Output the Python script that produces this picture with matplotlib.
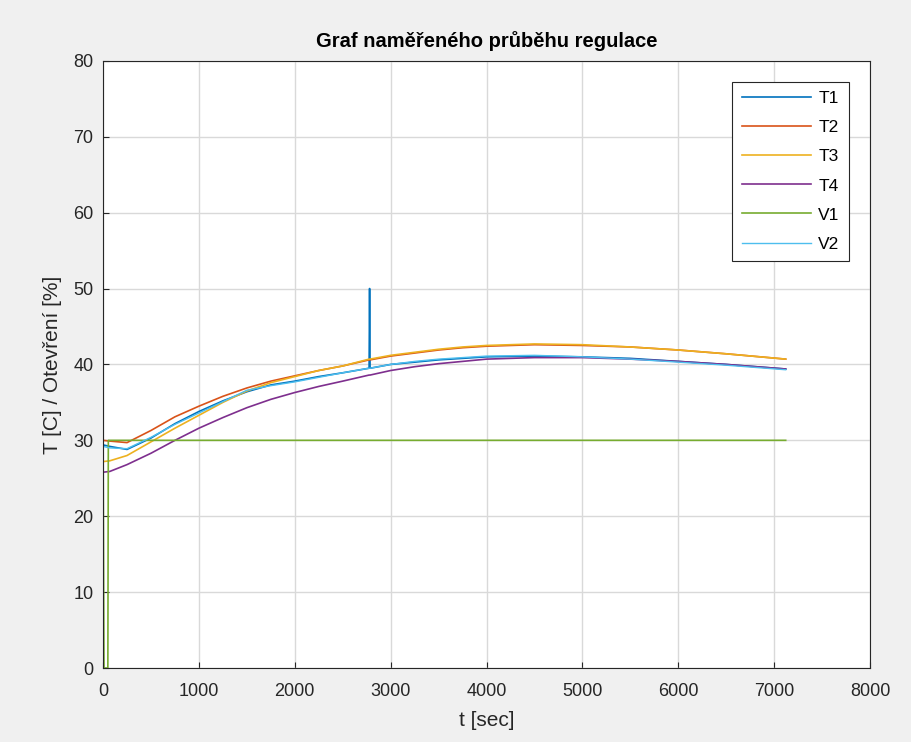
import matplotlib
matplotlib.use("Agg")
import matplotlib.pyplot as plt

plt.rcParams['font.family'] = ['Liberation Sans', 'DejaVu Sans']

# casove body [s]
t = [0, 70, 250, 500, 750, 1000, 1250, 1500, 1750, 2000, 2250, 2500, 2775, 2780, 2785,
     3000, 3250, 3500, 3750, 4000, 4500, 5000, 5500, 6000, 6500, 7120]

T1 = [29.4, 29.2, 28.8, 30.3, 32.2, 33.8, 35.2, 36.4, 37.3, 37.8, 38.4, 38.9, 39.5, 50.0, 39.5,
      40.0, 40.3, 40.6, 40.8, 41.0, 41.1, 41.0, 40.8, 40.4, 40.0, 39.4]
T2 = [30.0, 29.9, 29.7, 31.3, 33.1, 34.5, 35.8, 36.9, 37.8, 38.5, 39.2, 39.8, 40.6, 40.6, 40.6,
      41.1, 41.5, 41.9, 42.2, 42.4, 42.6, 42.5, 42.3, 41.9, 41.4, 40.7]
T3 = [27.2, 27.3, 28.0, 29.8, 31.6, 33.3, 35.0, 36.5, 37.6, 38.4, 39.2, 39.8, 40.7, 40.7, 40.7,
      41.2, 41.6, 42.0, 42.3, 42.5, 42.7, 42.6, 42.3, 41.9, 41.4, 40.7]
T4 = [25.8, 25.9, 26.8, 28.3, 30.0, 31.6, 33.0, 34.3, 35.4, 36.3, 37.1, 37.8, 38.6, 38.6, 38.6,
      39.2, 39.7, 40.1, 40.4, 40.7, 40.9, 40.9, 40.7, 40.4, 40.0, 39.4]
V2 = [29.2, 29.0, 28.9, 30.4, 32.1, 33.6, 35.1, 36.6, 37.2, 37.7, 38.3, 38.9, 39.5, 39.5, 39.5,
      40.0, 40.4, 40.7, 40.9, 41.1, 41.2, 41.0, 40.7, 40.3, 39.9, 39.3]

# ventil V1
t_v1 = [0, 10, 50, 55, 7120]
V1 = [30, 0, 0, 30, 30]

barvy = [(0, 0.447, 0.741), (0.85, 0.325, 0.098), (0.929, 0.694, 0.125),
         (0.494, 0.184, 0.556), (0.466, 0.674, 0.188), (0.301, 0.745, 0.933)]

fig = plt.figure(figsize=(9.12, 7.42), dpi=100, facecolor='#f0f0f0')
ax = fig.add_axes([0.113, 0.0997, 0.841, 0.8183])

ax.plot(t, T1, color=barvy[0], lw=1.2, label='T1')
ax.plot(t, T2, color=barvy[1], lw=1.2, label='T2')
ax.plot(t, T3, color=barvy[2], lw=1.2, label='T3')
ax.plot(t, T4, color=barvy[3], lw=1.2, label='T4')
ax.plot(t_v1, V1, color=barvy[4], lw=1.2, label='V1')
ax.plot(t, V2, color=barvy[5], lw=1.0, label='V2')

ax.set_xlim(0, 8000)
ax.set_ylim(0, 80)
ax.set_xticks(range(0, 8001, 1000))
ax.set_yticks(range(0, 81, 10))
ax.grid(True, color='#d9d9d9', lw=1)
ax.set_axisbelow(True)
ax.tick_params(direction='in', labelsize=13, colors='#262626', length=4, pad=7)
ax.tick_params(axis='x', pad=11)
for s in ax.spines.values():
    s.set_color('#262626')
    s.set_linewidth(0.8)

ax.set_title('Graf naměřeného průběhu regulace', fontsize=14.5, fontweight='bold', pad=10)
ax.set_xlabel('t [sec]', fontsize=15, color='#262626', labelpad=8)
ax.set_ylabel('T [C] / Otevření [%]', fontsize=15, color='#262626', labelpad=8)

leg = ax.legend(loc='upper right', fontsize=12.5, handlelength=4.0, labelspacing=0.8,
                fancybox=False, edgecolor='#262626', framealpha=1,
                borderaxespad=1.2, handletextpad=0.4, borderpad=0.55)
leg.get_frame().set_linewidth(0.8)

fig.savefig('out.png', dpi=100, facecolor=fig.get_facecolor())
